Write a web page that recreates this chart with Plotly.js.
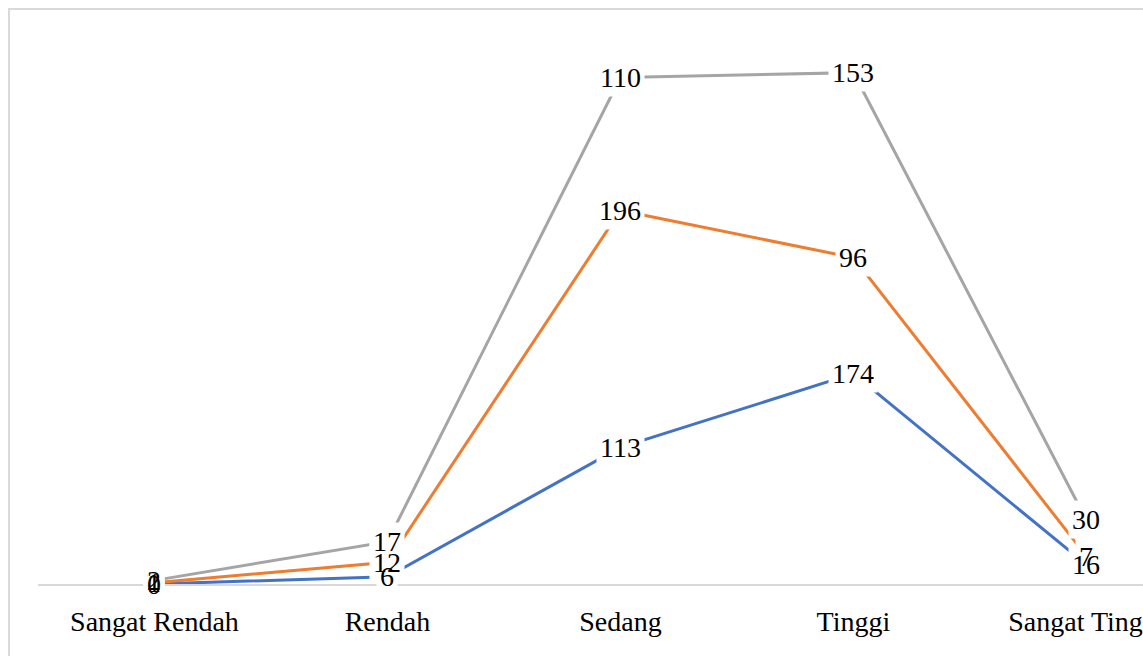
<!DOCTYPE html>
<html>
<head>
<meta charset="utf-8">
<script src="https://cdn.plot.ly/plotly-3.0.1.min.js"></script>
<style>
html,body{margin:0;padding:0;overflow:hidden;background:#fff;width:1143px;height:656px;}
#chart{position:absolute;left:0;top:0;width:1143px;height:656px;}
#frame{position:absolute;left:8px;top:8px;width:1300px;height:800px;border-left:2px solid #d9d9d9;border-top:2px solid #d9d9d9;pointer-events:none;}
</style>
</head>
<body>
<div id="chart"></div>
<div id="frame"></div>
<script>
const categories = ["Sangat Rendah", "Rendah", "Sedang", "Tinggi", "Sangat Tinggi"];
const seriesBlue = [0, 6, 113, 174, 16];
const seriesOrange = [1, 12, 196, 96, 7];
const seriesGray = [2, 17, 110, 153, 30];
const seriesNames = ["Seri 1", "Seri 2", "Seri 3"];
const colors = ["#4472C4", "#ED7D31", "#A5A5A5"];

const all = [seriesBlue, seriesOrange, seriesGray];
const traces = all.map((vals, i) => ({
  type: "scatter",
  mode: "lines",
  x: categories,
  y: vals,
  name: seriesNames[i],
  stackgroup: "one",
  fill: "none",
  line: {color: colors[i], width: 3},
  hoverinfo: "skip"
}));

const labelFont = {family: "Liberation Serif, serif", size: 28, color: "#000"};
const bgAnn = [];
const txtAnn = [];
const cum = categories.map(() => 0);
all.forEach((vals) => {
  vals.forEach((v, j) => {
    cum[j] += v;
    const base = {
      x: categories[j], y: cum[j], xref: "x", yref: "y",
      text: String(v), showarrow: false,
      xanchor: "center", yanchor: "middle", borderpad: 3
    };
    bgAnn.push(Object.assign({}, base, {bgcolor: "#ffffff", font: Object.assign({}, labelFont, {color: "rgba(0,0,0,0)"})}));
    txtAnn.push(Object.assign({}, base, {font: labelFont}));
  });
});

const layout = {
  width: 1143, height: 656,
  margin: {l: 38, r: 0, t: 40, b: 72},
  paper_bgcolor: "#fff", plot_bgcolor: "#fff",
  showlegend: false,
  xaxis: {
    type: "category",
    range: [-0.5, 4.243],
    showline: true, linecolor: "#d9d9d9", linewidth: 2,
    showgrid: false, zeroline: false, ticks: "",
    ticklabelstandoff: 11,
    tickfont: {family: "Liberation Serif, serif", size: 28, color: "#000"}
  },
  yaxis: {
    range: [0, 450],
    visible: false, showgrid: false, zeroline: false
  },
  annotations: bgAnn.concat(txtAnn)
};

Plotly.newPlot("chart", traces, layout, {displayModeBar: false, staticPlot: true});
</script>
</body>
</html>
